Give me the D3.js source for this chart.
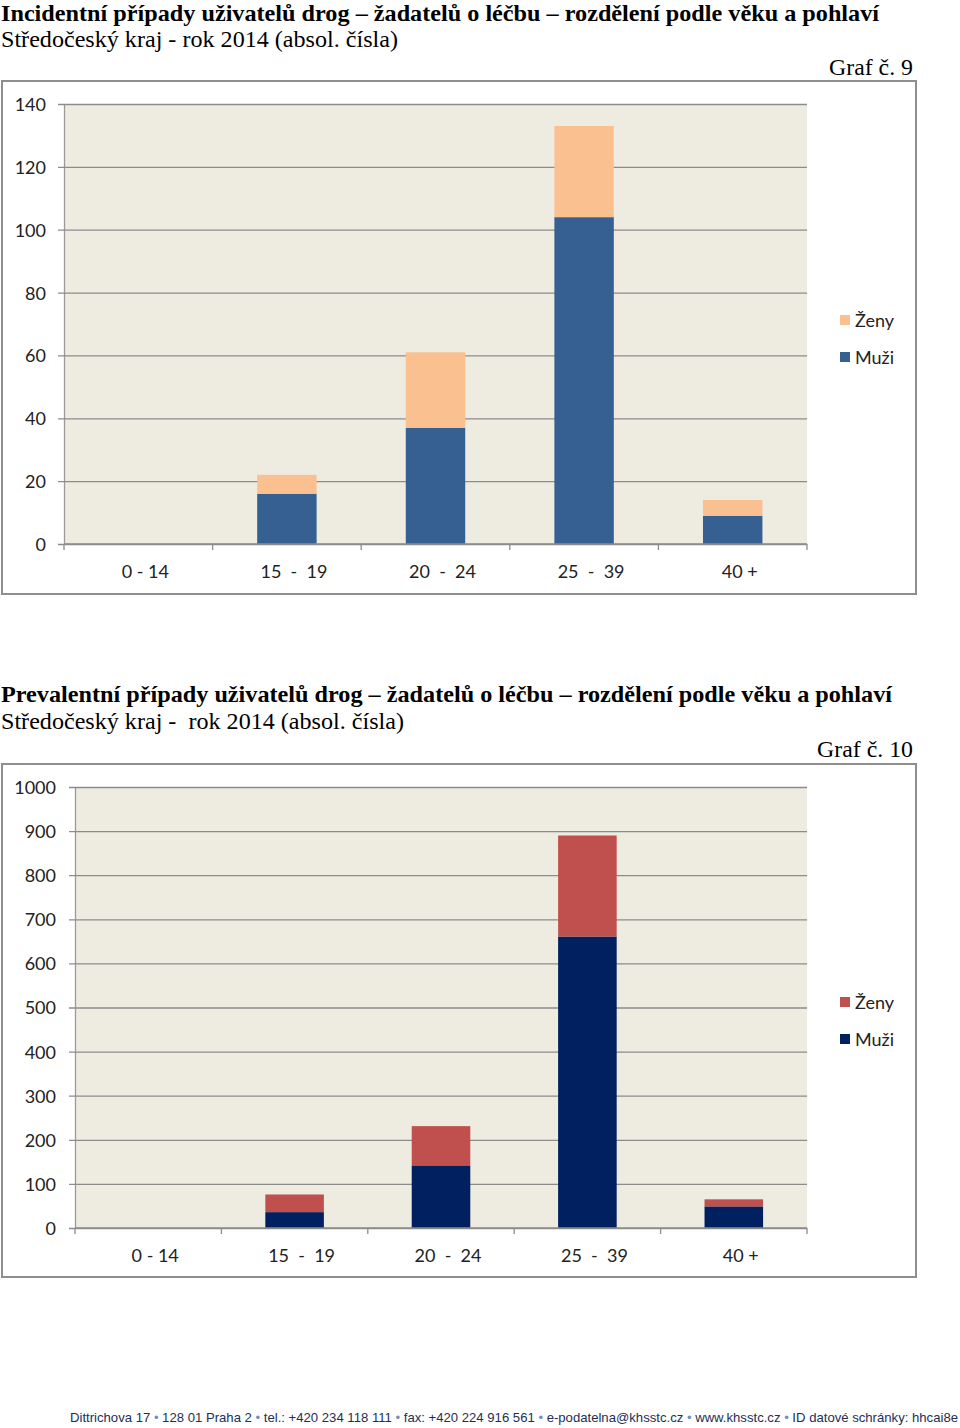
<!DOCTYPE html>
<html>
<head>
<meta charset="utf-8">
<script src="https://cdn.jsdelivr.net/npm/d3@7"></script>
<style>
  html, body { margin: 0; padding: 0; background: #fff; }
  svg { display: block; }
  text { white-space: pre; }
</style>
</head>
<body>
<svg id="page" width="960" height="1428"></svg>
<script>
// ---------- DATA ----------
const categories = ["0 - 14", "15  -  19", "20  -  24", "25  -  39", "40 +"];
const seriesNames = ["Muži", "Ženy"];

// Graf č. 9 – incidentní případy
const incMuzi = [0, 16, 37, 104, 9];
const incZeny = [0, 6, 24, 29, 5];
const incTicks = [0, 20, 40, 60, 80, 100, 120, 140];

// Graf č. 10 – prevalentní případy
const prevMuzi = [0, 36, 142, 661, 49];
const prevZeny = [0, 40, 89, 229, 16];
const prevTicks = [0, 100, 200, 300, 400, 500, 600, 700, 800, 900, 1000];

const title1 = "Incidentní případy uživatelů drog – žadatelů o léčbu – rozdělení podle věku a pohlaví";
const sub1 = "Středočeský kraj - rok 2014 (absol. čísla)";
const graf1 = "Graf č. 9";
const title2 = "Prevalentní případy uživatelů drog – žadatelů o léčbu – rozdělení podle věku a pohlaví";
const sub2 = "Středočeský kraj -  rok 2014 (absol. čísla)";
const graf2 = "Graf č. 10";
const footer = ["Dittrichova 17", "128 01 Praha 2", "tel.: +420 234 118 111", "fax: +420 224 916 561",
                "e-podatelna@khsstc.cz", "www.khsstc.cz", "ID datové schránky: hhcai8e"];

// ---------- DRAWING ----------
const svg = d3.select("#page");
const sans = "Lato, 'Open Sans', sans-serif";

function heading(cfg) {
  const serif = "'Liberation Serif', 'Times New Roman', serif";
  svg.append("text").attr("x", 1).attr("y", cfg.ty)
    .attr("font-family", serif).attr("font-weight", "bold").attr("font-size", 23)
    .attr("textLength", cfg.tw).attr("lengthAdjust", "spacingAndGlyphs")
    .attr("fill", "#000").text(cfg.title);
  svg.append("text").attr("x", 1).attr("y", cfg.sy)
    .attr("font-family", serif).attr("font-size", 23)
    .attr("textLength", cfg.sw).attr("lengthAdjust", "spacingAndGlyphs")
    .attr("fill", "#000").text(cfg.sub);
  svg.append("text").attr("x", 913).attr("y", cfg.gy).attr("text-anchor", "end")
    .attr("font-family", serif).attr("font-size", 23)
    .attr("textLength", cfg.gw).attr("lengthAdjust", "spacingAndGlyphs")
    .attr("fill", "#000").text(cfg.graf);
}

function chart(cfg) {
  const g = svg.append("g");
  // outer frame
  g.append("rect").attr("x", 2).attr("y", cfg.boxTop).attr("width", 914).attr("height", cfg.boxH)
    .attr("fill", "#fff").attr("stroke", "#8e8e8e").attr("stroke-width", 2);

  const x = d3.scaleBand().domain(categories).range([cfg.left, 807])
    .paddingInner(0.6).paddingOuter(0.3);
  const y = d3.scaleLinear().domain([0, cfg.max]).range([cfg.bottom, cfg.top]);

  // plot background
  g.append("rect").attr("x", cfg.left).attr("y", y(cfg.max))
    .attr("width", 807 - cfg.left).attr("height", y(0) - y(cfg.max)).attr("fill", "#eeebe1");

  // y axis with gridlines
  const yAxis = d3.axisLeft(y).tickValues(cfg.ticks).tickFormat(d3.format("d"))
    .tickSize(0).tickPadding(cfg.pad);
  const ya = g.append("g").attr("transform", `translate(${cfg.left},0)`).call(yAxis);
  ya.select(".domain").attr("stroke", "#9a9a9a").attr("stroke-width", 1.3);
  ya.selectAll("text").attr("font-family", sans)
    .attr("font-size", 18).attr("fill", "#222").attr("dy", "0.36em");
  ya.selectAll(".tick").append("line").attr("x1", -6).attr("x2", 807 - cfg.left)
    .attr("stroke", "#8c8c8c").attr("stroke-width", 1.3);

  // stacked bars
  const rows = categories.map((c, i) => ({ cat: c, Muži: cfg.muzi[i], Ženy: cfg.zeny[i] }));
  const stack = d3.stack().keys(seriesNames)(rows);
  const colors = { "Muži": cfg.cMuzi, "Ženy": cfg.cZeny };
  stack.forEach(layer => {
    g.append("g").selectAll("rect").data(layer).join("rect")
      .attr("x", d => x(d.data.cat))
      .attr("width", x.bandwidth())
      .attr("y", d => y(d[1]))
      .attr("height", d => y(d[0]) - y(d[1]))
      .attr("fill", colors[layer.key]);
  });

  // x axis
  const step = x.step();
  const xa = g.append("g");
  xa.append("line").attr("x1", cfg.left).attr("x2", 807).attr("y1", y(0)).attr("y2", y(0))
    .attr("stroke", "#8c8c8c").attr("stroke-width", 1.3);
  xa.selectAll("line.tk").data(d3.range(categories.length + 1)).join("line").attr("class", "tk")
    .attr("x1", i => cfg.left + i * step).attr("x2", i => cfg.left + i * step)
    .attr("y1", y(0)).attr("y2", y(0) + 6).attr("stroke", "#8c8c8c").attr("stroke-width", 1.3);
  xa.selectAll("text").data(categories).join("text")
    .attr("x", d => x(d) + x.bandwidth() / 2 + 7).attr("y", y(0) + 34)
    .attr("text-anchor", "middle").attr("font-family", sans)
    .attr("font-size", 18).attr("fill", "#222").text(d => d);

  // legend
  const leg = g.append("g");
  ["Ženy", "Muži"].forEach((name, i) => {
    const cy = cfg.legY + i * 37;
    leg.append("rect").attr("x", 840).attr("y", cy - 5).attr("width", 10).attr("height", 10)
      .attr("fill", colors[name]);
    leg.append("text").attr("x", 855).attr("y", cy + 7)
      .attr("font-family", sans).attr("font-size", 18)
      .attr("fill", "#222").text(name);
  });
}

heading({ title: title1, sub: sub1, graf: graf1, ty: 21, tw: 878, sy: 47, sw: 397, gy: 75, gw: 84 });
chart({ boxTop: 81, boxH: 513, left: 64, top: 104, bottom: 544, max: 140, ticks: incTicks, pad: 18,
        muzi: incMuzi, zeny: incZeny, cMuzi: "#376092", cZeny: "#fac090", legY: 320 });

heading({ title: title2, sub: sub2, graf: graf2, ty: 702, tw: 891, sy: 729, sw: 403, gy: 757, gw: 96 });
chart({ boxTop: 764, boxH: 513, left: 75, top: 787, bottom: 1228, max: 1000, ticks: prevTicks, pad: 19,
        muzi: prevMuzi, zeny: prevZeny, cMuzi: "#002060", cZeny: "#c0504d", legY: 1002 });

// footer
const ft = svg.append("text").attr("x", 70).attr("y", 1422)
  .attr("font-family", "'Liberation Sans', Arial, sans-serif").attr("font-size", 13)
  .attr("textLength", 888).attr("lengthAdjust", "spacingAndGlyphs").attr("fill", "#1c2f55");
footer.forEach((part, i) => {
  if (i > 0) ft.append("tspan").attr("fill", "#6f8fbf").text(" • ");
  ft.append("tspan").text(part);
});
</script>
</body>
</html>
